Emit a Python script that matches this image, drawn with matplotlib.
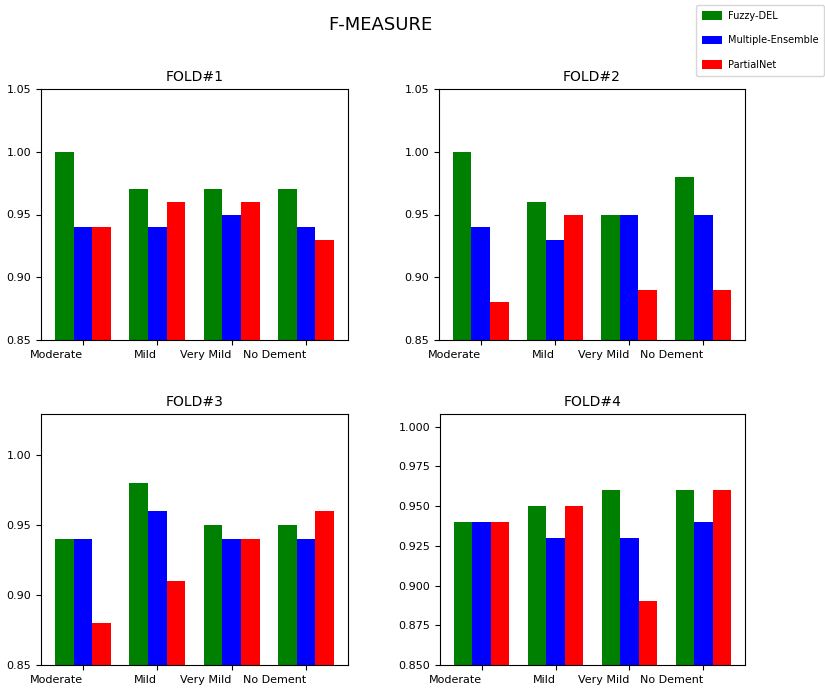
import numpy as np
import matplotlib
matplotlib.use("Agg")
import matplotlib.pyplot as plt
from matplotlib.ticker import MultipleLocator

plt.rcParams.update({"font.family": "DejaVu Sans", "font.size": 8})

CLASSES = ["Moderate", "Mild", "Very Mild", "No Dement"]
MODELS = ["Fuzzy-DEL", "Multiple-Ensemble", "PartialNet"]
COLORS = ["green", "blue", "red"]

FOLD1 = [[1.00, 0.97, 0.97, 0.97], [0.94, 0.94, 0.95, 0.94], [0.94, 0.96, 0.96, 0.93]]
FOLD2 = [[1.00, 0.96, 0.95, 0.98], [0.94, 0.93, 0.95, 0.95], [0.88, 0.95, 0.89, 0.89]]
FOLD3 = [[0.94, 0.98, 0.95, 0.95], [0.94, 0.96, 0.94, 0.94], [0.88, 0.91, 0.94, 0.96]]
FOLD4 = [[0.94, 0.95, 0.96, 0.96], [0.94, 0.93, 0.93, 0.94], [0.94, 0.95, 0.89, 0.96]]
FOLDS = [FOLD1, FOLD2, FOLD3, FOLD4]
YSTEP = [0.05, 0.05, 0.05, 0.025]

fig = plt.figure(figsize=(8.25, 6.93), dpi=100)
W, H = 825, 693
boxes = [(41, 89, 348, 340), (439, 89, 745, 340),
         (41, 414, 348, 665), (440, 414, 745, 665)]

x = np.arange(len(CLASSES))
w = 0.25
handles = []
for k, (fold, (l, t, r, b)) in enumerate(zip(FOLDS, boxes)):
    ax = fig.add_axes([l / W, 1 - b / H, (r - l) / W, (b - t) / H])
    for i, (vals, col, name) in enumerate(zip(fold, COLORS, MODELS)):
        h = ax.bar(x + i * w, vals, w, color=col, label=name)
        if k == 0:
            handles.append(h)
    ax.set_ylim(bottom=0.85)
    ax.yaxis.set_major_locator(MultipleLocator(YSTEP[k]))
    ax.set_xticks(x + w)
    ax.set_xticklabels(CLASSES, ha="right")
    ax.set_title(f"FOLD#{k + 1}", fontsize=10)

fig.suptitle("F-MEASURE", x=380 / W, y=1 - 16 / H, fontsize=13)
fig.legend(handles, MODELS, loc="upper right",
           bbox_to_anchor=(1.0, 1 - 4 / H), fontsize=7,
           labelspacing=1.5, handlelength=2.0, handleheight=1.0,
           handletextpad=0.6, borderpad=0.6, borderaxespad=0.1)

fig.savefig("out.png", dpi=100)
